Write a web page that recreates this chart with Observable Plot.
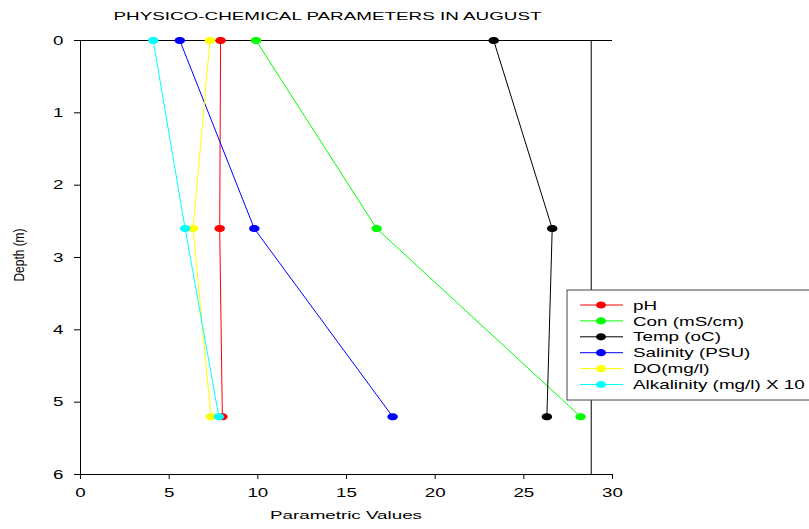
<!DOCTYPE html>
<html>
<head>
<meta charset="utf-8">
<script src="https://cdn.jsdelivr.net/npm/d3@7"></script>
<script src="https://cdn.jsdelivr.net/npm/@observablehq/plot@0.6"></script>
<style>
  html, body { margin: 0; padding: 0; background: white; overflow: hidden; }
</style>
</head>
<body>
<script>
// ---- data ----
const depths = [0, 2.6, 5.2];
const pH = [7.9, 7.85, 8.0];
const con = [9.9, 16.7, 28.2];
const temp = [23.3, 26.6, 26.3];
const salinity = [5.6, 9.8, 17.6];
const dissolvedOxygen = [7.3, 6.35, 7.35];
const alkalinity = [4.1, 5.9, 7.8];
const seriesNames = ["pH", "Con (mS/cm)", "Temp (oC)", "Salinity (PSU)", "DO(mg/l)", "Alkalinity (mg/l) X 10"];
const seriesColors = ["#ff0000", "#00ff00", "#000000", "#0000ff", "#ffff00", "#00ffff"];
const xTicks = [0, 5, 10, 15, 20, 25, 30];
const yTicks = [0, 1, 2, 3, 4, 5, 6];
const frameRightX = 28.8;
const titleText = "PHYSICO-CHEMICAL PARAMETERS IN AUGUST";
const xLabelText = "Parametric Values";
const yLabelText = "Depth (m)";

const seriesValues = [pH, con, temp, salinity, dissolvedOxygen, alkalinity];
const series = seriesNames.map((name, i) => ({
  name, color: seriesColors[i],
  rows: depths.map((d, j) => ({depth: d, value: seriesValues[i][j]}))
}));

// horizontally stretched ellipse symbol (the reference's markers are ovals)
const ellipse = {
  draw(ctx, size) {
    const r = Math.sqrt(size / Math.PI);
    const rx = r * 1.5, ry = r, k = 0.5522847498;
    ctx.moveTo(rx, 0);
    ctx.bezierCurveTo(rx, ry * k, rx * k, ry, 0, ry);
    ctx.bezierCurveTo(-rx * k, ry, -rx, ry * k, -rx, 0);
    ctx.bezierCurveTo(-rx, -ry * k, -rx * k, -ry, 0, -ry);
    ctx.bezierCurveTo(rx * k, -ry, rx, -ry * k, rx, 0);
    ctx.closePath();
  }
};

const marks = [
  Plot.ruleY([0, 6], {stroke: "black", strokeWidth: 1}),
  Plot.ruleX([0, frameRightX], {stroke: "black", strokeWidth: 1}),
  Plot.axisX({ticks: xTicks, tickSize: 5, tickPadding: 8, label: null, tickFormat: d3.format("d")}),
  Plot.axisY({ticks: yTicks, tickSize: 6, tickPadding: 11, label: null, tickFormat: d3.format("d")})
];
for (const s of series) {
  marks.push(Plot.line(s.rows, {x: "value", y: "depth", stroke: s.color, strokeWidth: 1}));
  marks.push(Plot.dot(s.rows, {x: "value", y: "depth", fill: s.color, r: 3.5, symbol: ellipse}));
}

const chart = Plot.plot({
  width: 809,
  height: 529,
  marginLeft: 80,
  marginRight: 197,
  marginTop: 40,
  marginBottom: 55,
  style: {fontFamily: "'Liberation Sans', Arial, sans-serif", fontSize: "13px", color: "black", background: "white", overflow: "visible"},
  x: {domain: [0, 30]},
  y: {domain: [0, 6], reverse: true},
  marks
});
document.body.append(chart);

const svg = d3.select(chart);
function stretch(sel, factor) {
  sel.each(function () {
    const w = this.getComputedTextLength();
    this.setAttribute("textLength", (w * factor).toFixed(2));
    this.setAttribute("lengthAdjust", "spacingAndGlyphs");
  });
}
stretch(svg.selectAll('[aria-label="x-axis tick label"] text, [aria-label="y-axis tick label"] text'), 1.44);

// title
svg.append("text")
  .attr("x", 327.5).attr("y", 20)
  .attr("text-anchor", "middle")
  .attr("font-size", 11.5)
  .attr("fill", "black")
  .attr("textLength", 428)
  .attr("lengthAdjust", "spacingAndGlyphs")
  .text(titleText);

// x label
svg.append("text")
  .attr("x", 346).attr("y", 519)
  .attr("text-anchor", "middle")
  .attr("font-size", 11.5)
  .attr("fill", "black")
  .attr("textLength", 152)
  .attr("lengthAdjust", "spacingAndGlyphs")
  .text(xLabelText);

// y label
svg.append("text")
  .attr("transform", "translate(24,255) rotate(-90) scale(1,1.15)")
  .attr("text-anchor", "middle")
  .attr("font-size", 12)
  .attr("fill", "black")
  .attr("textLength", 53)
  .attr("lengthAdjust", "spacingAndGlyphs")
  .text(yLabelText);

// legend
const lg = svg.append("g").attr("text-anchor", "start");
lg.append("rect")
  .attr("x", 567).attr("y", 290).attr("width", 250).attr("height", 110)
  .attr("fill", "white").attr("stroke", "#444").attr("stroke-width", 1);
series.forEach((s, i) => {
  const y = 305 + i * 15.9;
  lg.append("line").attr("x1", 580).attr("x2", 623).attr("y1", y).attr("y2", y)
    .attr("stroke", s.color).attr("stroke-width", 1);
  lg.append("ellipse").attr("cx", 601).attr("cy", y).attr("rx", 5).attr("ry", 3.6)
    .attr("fill", s.color);
  lg.append("text").attr("x", 633).attr("y", y).attr("dy", "0.36em")
    .attr("text-anchor", "start")
    .attr("font-size", 13).attr("fill", "black")
    .text(s.name);
});
stretch(lg.selectAll("text"), 1.45);
</script>
</body>
</html>
